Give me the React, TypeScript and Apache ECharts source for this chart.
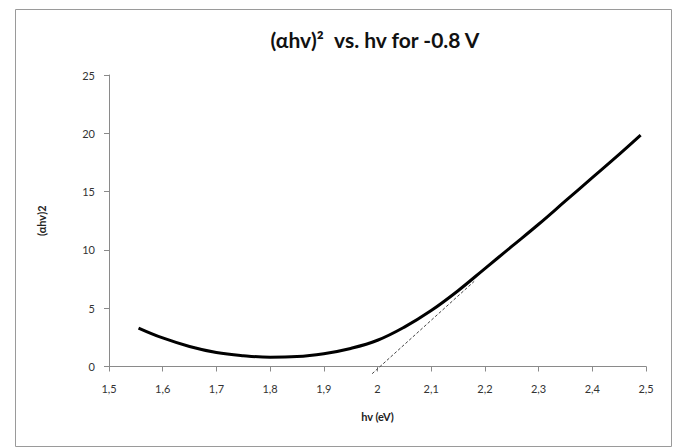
import React, { useEffect, useRef } from "react";
import * as echarts from "echarts";

const hv = [1.555, 1.6, 1.65, 1.7, 1.75, 1.8, 1.85, 1.9, 1.95, 2.0, 2.05, 2.1, 2.15, 2.2, 2.25, 2.3, 2.35, 2.4, 2.45, 2.49];
const alphaHv2 = [3.3, 2.45, 1.72, 1.2, 0.93, 0.8, 0.85, 1.1, 1.55, 2.25, 3.38, 4.8, 6.5, 8.4, 10.3, 12.2, 14.2, 16.2, 18.2, 19.85];
const tangentX = [1.99, 2.18];
const tangentY = [-0.62, 7.3];
const titleText = "(αhv)²  vs. hv for -0.8 V";
const xName = "hv (eV)";
const yName = "(αhv)2";

export default function App() {
  const ref = useRef<HTMLDivElement>(null);
  useEffect(() => {
    if (!ref.current) return;
    const chart = echarts.init(ref.current, null, { renderer: "svg" });
    const font = "Lato, 'Open Sans', sans-serif";
    chart.setOption({
      animation: false,
      backgroundColor: "#ffffff",
      textStyle: { fontFamily: font },
      title: {
        text: titleText,
        left: 370,
        top: 24,
        textAlign: "center",
        textStyle: { fontFamily: font, fontSize: 21, fontWeight: "bold", color: "#111" },
      },
      graphic: [
        {
          type: "rect",
          shape: { x: 15.5, y: 9.5, width: 656, height: 437 },
          style: { fill: "none", stroke: "#9a9a9a", lineWidth: 1 },
          silent: true,
        },
      ],
      grid: { left: 109, right: 32, top: 75, bottom: 81.5, containLabel: false },
      xAxis: {
        type: "value",
        min: 1.5,
        max: 2.5,
        interval: 0.1,
        name: xName,
        nameLocation: "middle",
        nameGap: 44,
        nameTextStyle: { fontFamily: font, fontSize: 11, fontWeight: "bold", color: "#222" },
        axisLine: { show: true, onZero: false, lineStyle: { color: "#8a8a8a", width: 1 } },
        axisTick: { show: true, length: 5, lineStyle: { color: "#8a8a8a" } },
        splitLine: { show: false },
        axisLabel: {
          margin: 16,
          fontSize: 11,
          color: "#333",
          formatter: (v: number) => (Math.round(v * 10) / 10).toString().replace(".", ","),
        },
      },
      yAxis: {
        type: "value",
        min: 0,
        max: 25,
        interval: 5,
        name: yName,
        nameLocation: "middle",
        nameGap: 62,
        nameRotate: 90,
        nameTextStyle: { fontFamily: font, fontSize: 11, fontWeight: "bold", color: "#222" },
        axisLine: { show: true, lineStyle: { color: "#8a8a8a", width: 1 } },
        axisTick: { show: true, length: 5, lineStyle: { color: "#8a8a8a" } },
        splitLine: { show: false },
        axisLabel: { margin: 14, fontSize: 11, color: "#333" },
      },
      series: [
        {
          type: "line",
          data: hv.map((x, i) => [x, alphaHv2[i]]),
          smooth: 0.4,
          symbol: "none",
          lineStyle: { color: "#000", width: 3 },
        },
        {
          type: "line",
          data: tangentX.map((x, i) => [x, tangentY[i]]),
          symbol: "none",
          clip: false,
          lineStyle: { color: "#444", width: 1, type: [3, 2] },
        },
      ],
    });
    return () => chart.dispose();
  }, []);
  return (
    <div
      ref={ref}
      style={{ position: "absolute", left: 0, top: 0, width: 678, height: 448, background: "#fff" }}
    />
  );
}
